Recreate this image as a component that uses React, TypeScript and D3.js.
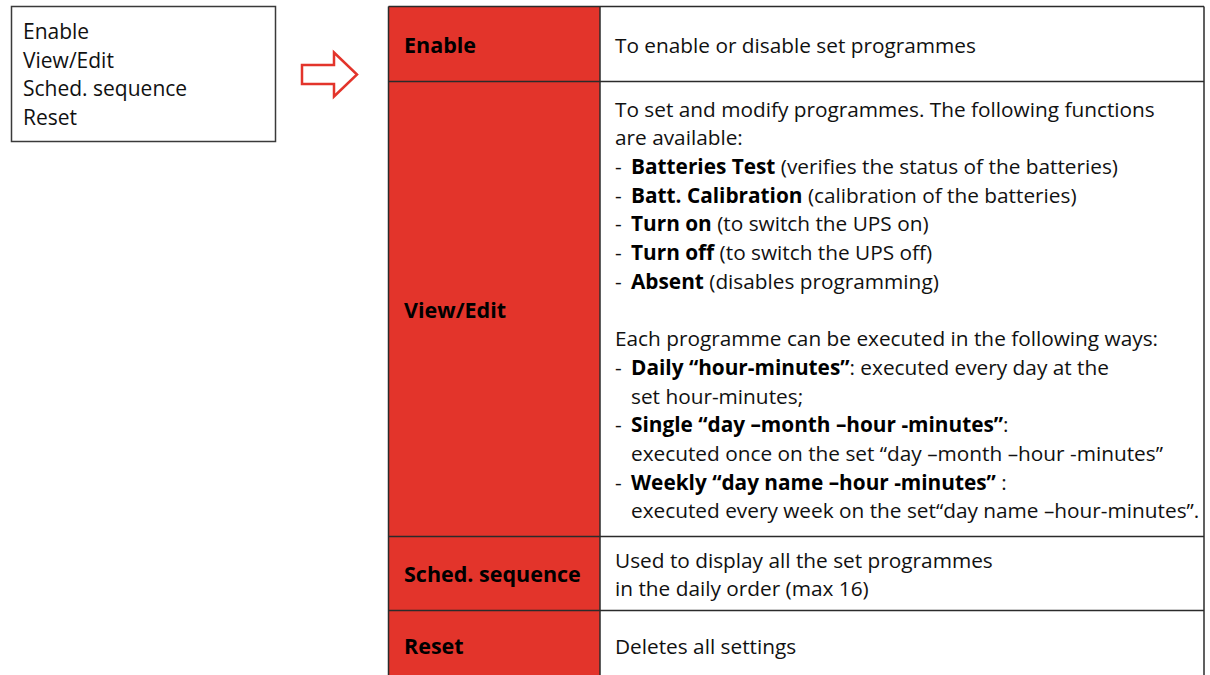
import { useEffect, useRef } from 'react'
import * as d3 from 'd3'

// menu shown in the small box on the left
const menuItems = ['Enable', 'View/Edit', 'Sched. sequence', 'Reset']

// first column of the table
const rowLabels = ['Enable', 'View/Edit', 'Sched. sequence', 'Reset']

// second column: one entry per line, **text** is bold,
// a leading "- " is a bullet and a leading "  " continues the bullet
const rowDescriptions: string[][] = [
  ['To enable or disable set programmes'],
  [
    'To set and modify programmes. The following functions',
    'are available:',
    '- **Batteries Test** (verifies the status of the batteries)',
    '- **Batt. Calibration** (calibration of the batteries)',
    '- **Turn on** (to switch the UPS on)',
    '- **Turn off** (to switch the UPS off)',
    '- **Absent** (disables programming)',
    '',
    'Each programme can be executed in the following ways:',
    '- **Daily \u201chour-minutes\u201d**: executed every day at the',
    '  set hour-minutes;',
    '- **Single \u201cday \u2013month \u2013hour -minutes\u201d**:',
    '  executed once on the set \u201cday \u2013month \u2013hour -minutes\u201d',
    '- **Weekly \u201cday name \u2013hour -minutes\u201d** :',
    '  executed every week on the set\u201cday name \u2013hour-minutes\u201d.',
  ],
  ['Used to display all the set programmes', 'in the daily order (max 16)'],
  ['Deletes all settings'],
]

// layout
const rowHeights = [75, 455, 74, 70]
const RED = '#e3342b'
const FONT = "'Open Sans', Lato, sans-serif"

const App = () => {
  const svgRef = useRef<SVGSVGElement | null>(null)

  useEffect(() => {
    if (!svgRef.current) return
    const svg = d3.select(svgRef.current)
    svg.selectAll('*').remove()

    const width = 1210
    const height = 675
    svg.attr('width', width).attr('height', height)

    // left menu box
    const box = { x: 11.5, y: 6.5, w: 264, h: 135 }
    svg
      .append('rect')
      .attr('x', box.x)
      .attr('y', box.y)
      .attr('width', box.w)
      .attr('height', box.h)
      .attr('fill', 'white')
      .attr('stroke', '#3a3a3a')
      .attr('stroke-width', 1.5)

    const menuY = d3
      .scalePoint<string>()
      .domain(menuItems)
      .range([39.3, 125])

    svg
      .append('g')
      .selectAll('text')
      .data(menuItems)
      .join('text')
      .attr('x', 23)
      .attr('y', (d) => menuY(d)!)
      .attr('font-family', FONT)
      .attr('font-size', 21)
      .attr('fill', '#111')
      .text((d) => d)

    // hollow red arrow
    const arrow = d3.path()
    arrow.moveTo(302, 65)
    arrow.lineTo(334, 65)
    arrow.lineTo(334, 52.5)
    arrow.lineTo(357, 74.5)
    arrow.lineTo(334, 96.5)
    arrow.lineTo(334, 84)
    arrow.lineTo(302, 84)
    arrow.closePath()
    svg
      .append('path')
      .attr('d', arrow.toString())
      .attr('fill', 'white')
      .attr('stroke', RED)
      .attr('stroke-width', 2.5)
      .attr('stroke-linejoin', 'miter')

    // table
    const x0 = 388.5
    const xSplit = 600
    const x1 = 1204
    const top = 6.5
    const tops = [top, ...Array.from(d3.cumsum(rowHeights)).map((v) => top + v)]

    const rows = rowLabels.map((label, i) => ({
      label,
      lines: rowDescriptions[i],
      y: tops[i],
      h: rowHeights[i],
    }))

    const g = svg.append('g')

    const row = g
      .selectAll('g.row')
      .data(rows)
      .join('g')
      .attr('class', 'row')

    row
      .append('rect')
      .attr('x', x0)
      .attr('y', (d) => d.y)
      .attr('width', xSplit - x0)
      .attr('height', (d) => d.h + 10)
      .attr('fill', RED)

    row
      .append('rect')
      .attr('x', xSplit)
      .attr('y', (d) => d.y)
      .attr('width', x1 - xSplit)
      .attr('height', (d) => d.h + 10)
      .attr('fill', 'white')

    // grid lines
    const stroke = '#2b2b2b'
    g.selectAll('line.h')
      .data(tops.slice(0, rows.length))
      .join('line')
      .attr('class', 'h')
      .attr('x1', x0)
      .attr('x2', x1)
      .attr('y1', (d) => d)
      .attr('y2', (d) => d)
      .attr('stroke', stroke)
      .attr('stroke-width', 1.5)

    g.selectAll('line.v')
      .data([x0, xSplit, x1])
      .join('line')
      .attr('class', 'v')
      .attr('x1', (d) => d)
      .attr('x2', (d) => d)
      .attr('y1', top)
      .attr('y2', height + 10)
      .attr('stroke', stroke)
      .attr('stroke-width', 1.5)

    const lineH = 28.7
    const baseOff = 8.5
    const fs = 20.8

    // labels
    row
      .append('text')
      .attr('x', 404)
      .attr('y', (d) => d.y + d.h / 2 + baseOff)
      .attr('font-family', FONT)
      .attr('font-weight', 'bold')
      .attr('font-size', 21.5)
      .attr('fill', '#000')
      .text((d) => d.label)

    // descriptions
    row.each(function (d) {
      const n = d.lines.length
      const cy = d.y + d.h / 2 + baseOff
      d.lines.forEach((line, i) => {
        if (!line) return
        const y = cy + (i - (n - 1) / 2) * lineH
        let content = line
        let x = 615
        if (line.startsWith('- ')) {
          d3.select(this)
            .append('text')
            .attr('x', 615)
            .attr('y', y)
            .attr('font-family', FONT)
            .attr('font-size', fs)
            .attr('fill', '#111')
            .text('-')
          content = line.slice(2)
          x = 631
        } else if (line.startsWith('  ')) {
          content = line.slice(2)
          x = 631
        }
        const t = d3
          .select(this)
          .append('text')
          .attr('x', x)
          .attr('y', y)
          .attr('font-family', FONT)
          .attr('font-size', fs)
          .attr('fill', '#111')
          .style('white-space', 'pre')
        content.split('**').forEach((part, k) => {
          if (!part) return
          t.append('tspan')
            .attr('font-weight', k % 2 === 1 ? 'bold' : 'normal')
            .attr('fill', k % 2 === 1 ? '#000' : '#111')
            .text(part)
        })
      })
    })
  }, [])

  return (
    <svg
      ref={svgRef}
      style={{ position: 'absolute', left: 0, top: 0, background: 'white' }}
    ></svg>
  )
}

export default App
